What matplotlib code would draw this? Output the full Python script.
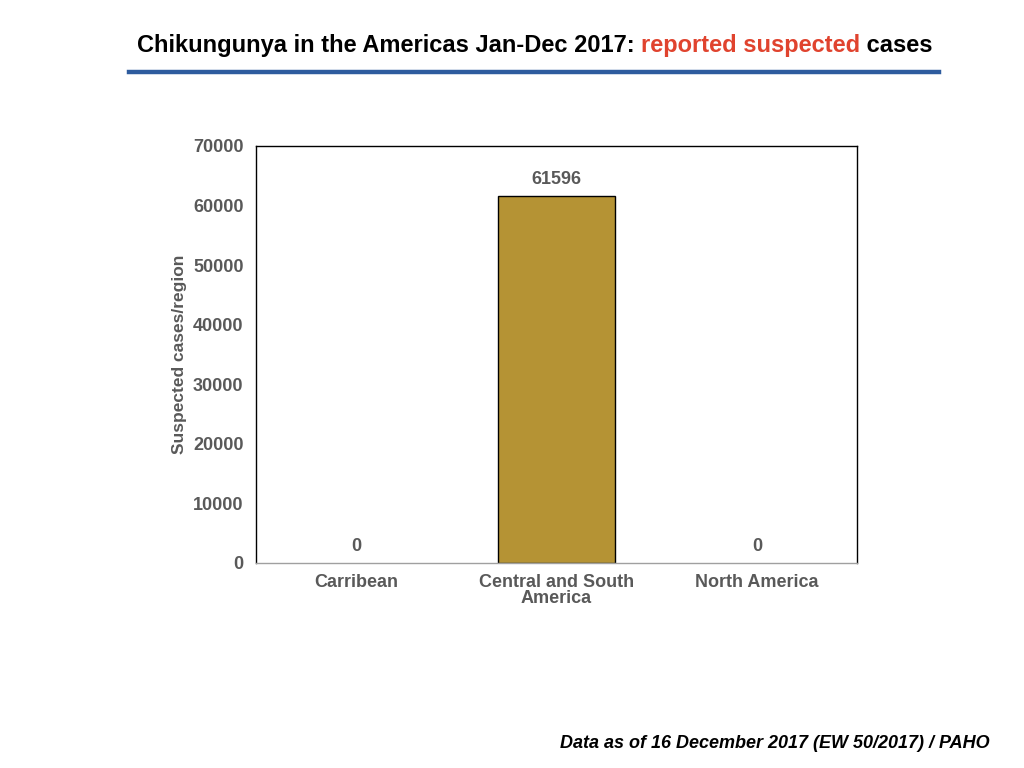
import matplotlib
matplotlib.use("Agg")
import matplotlib.pyplot as plt
from matplotlib.lines import Line2D

plt.rcParams["font.family"] = ["Liberation Sans", "DejaVu Sans"]

regions = ["Carribean", "Central and South\nAmerica", "North America"]
cases = [0, 61596, 0]
y_ticks = [0, 10000, 20000, 30000, 40000, 50000, 60000, 70000]

TEXT_GRAY = "#595959"
BAR_COLOR = "#B59334"

fig = plt.figure(figsize=(10.24, 7.68), dpi=100)
ax = fig.add_axes([0.25, 0.267, 0.587, 0.543])

x = range(len(regions))
for xi, val in zip(x, cases):
    ax.bar(xi, val, width=0.58, color=BAR_COLOR,
           edgecolor="black", linewidth=1.0 if val > 0 else 0)
    ax.text(xi, val + 1300, f"{val}", ha="center", va="bottom",
            fontsize=13, fontweight="bold", color=TEXT_GRAY)

ax.set_xlim(-0.5, len(regions) - 0.5)
ax.set_ylim(0, 70000)
ax.set_yticks(y_ticks)
ax.set_yticklabels([str(t) for t in y_ticks], fontsize=13, fontweight="bold", color=TEXT_GRAY)
ax.set_xticks(list(x))
ax.set_xticklabels(regions, fontsize=13, fontweight="bold", color=TEXT_GRAY, linespacing=0.95)
ax.tick_params(axis="both", length=0, pad=9)
ax.tick_params(axis="x", pad=8)
ax.set_ylabel("Suspected cases/region", fontsize=12.5, fontweight="bold", color=TEXT_GRAY, labelpad=4)
for side in ["left", "top", "right"]:
    ax.spines[side].set_color("black")
    ax.spines[side].set_linewidth(1.0)
ax.spines["bottom"].set_color("#A0A0A0")
ax.spines["bottom"].set_linewidth(1.0)

# title with coloured middle part, pieces placed side by side on one baseline
parts = [("Chikungunya in the Americas Jan-Dec 2017: ", "black"),
         ("reported suspected", "#E0432E"),
         (" cases", "black")]
renderer = fig.canvas.get_renderer()
texts = []
widths = []
for s, c in parts:
    t = fig.text(0, 1 - 52 / 768, s, fontsize=17, fontweight="bold", color=c,
                 va="baseline", ha="left")
    texts.append(t)
    widths.append(t.get_window_extent(renderer).width)
total = sum(widths)
x0 = 535 - total / 2
for t, w in zip(texts, widths):
    t.set_x(x0 / 1024)
    x0 += w

fig.add_artist(Line2D([129 / 1024, 939 / 1024], [1 - 72 / 768] * 2,
                      color="#2E5C9E", linewidth=3.2, transform=fig.transFigure))

fig.text(990 / 1024, 1 - 744 / 768, "Data as of 16 December 2017 (EW 50/2017) / PAHO",
         ha="right", va="center", fontsize=13, fontweight="bold", style="italic", color="black")

fig.savefig("out.png", dpi=100, facecolor="white")
